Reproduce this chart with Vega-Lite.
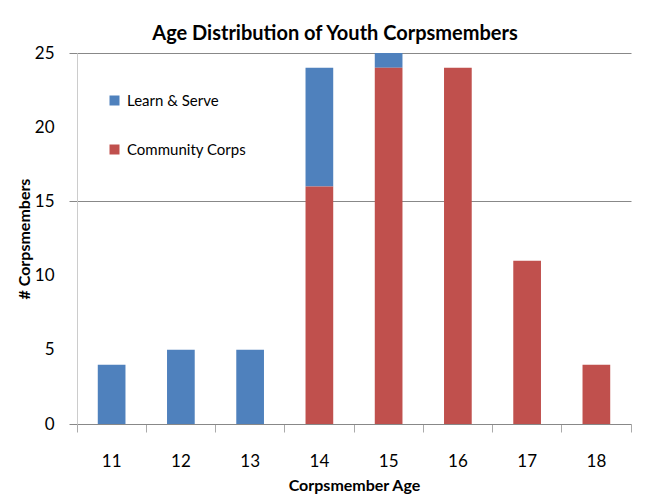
{
  "$schema": "https://vega.github.io/schema/vega-lite/v6.json",
  "autosize": "none",
  "padding": {"left": 77, "top": 53, "right": 20, "bottom": 70},
  "width": 554,
  "height": 371,
  "background": "white",
  "title": {
    "text": "Age Distribution of Youth Corpsmembers",
    "fontSize": 20,
    "font": "Lato",
    "fontWeight": "bold",
    "color": "#000000",
    "anchor": "middle",
    "dx": -19,
    "offset": 0
  },
  "data": {
    "values": [
      {"age": "11", "group": "Learn & Serve", "count": 4},
      {"age": "12", "group": "Learn & Serve", "count": 5},
      {"age": "13", "group": "Learn & Serve", "count": 5},
      {"age": "14", "group": "Learn & Serve", "count": 8},
      {"age": "14", "group": "Community Corps", "count": 16},
      {"age": "15", "group": "Learn & Serve", "count": 3},
      {"age": "15", "group": "Community Corps", "count": 24},
      {"age": "16", "group": "Community Corps", "count": 24},
      {"age": "17", "group": "Community Corps", "count": 11},
      {"age": "18", "group": "Community Corps", "count": 4}
    ]
  },
  "mark": {"type": "bar", "clip": true, "width": {"band": 0.4}},
  "encoding": {
    "x": {
      "field": "age",
      "type": "ordinal",
      "scale": {"paddingInner": 0, "paddingOuter": 0},
      "axis": {
        "title": "Corpsmember Age",
        "titleFont": "Lato",
        "titleFontSize": 16,
        "titleFontWeight": "bold",
        "titleColor": "#000000",
        "titlePadding": 8,
        "labelAngle": 0,
        "labelFont": "Lato",
        "labelFontSize": 17,
        "labelColor": "#000000",
        "labelPadding": 21,
        "bandPosition": 1,
        "tickExtra": true,
        "tickSize": 8,
        "tickColor": "#aaaaaa",
        "domainColor": "#888888",
        "grid": false
      }
    },
    "y": {
      "field": "count",
      "type": "quantitative",
      "stack": "zero",
      "scale": {"domain": [0, 25], "nice": false},
      "axis": {
        "title": "# Corpsmembers",
        "titleFont": "Lato",
        "titleFontSize": 16,
        "titleFontWeight": "bold",
        "titleColor": "#000000",
        "titlePadding": 2,
        "values": [0, 5, 10, 15, 20, 25],
        "labelFont": "Lato",
        "labelFontSize": 17,
        "labelColor": "#000000",
        "labelPadding": 15,
        "tickSize": 8,
        "tickColor": "#888888",
        "tickOpacity": {"condition": {"test": "datum.value == 0 || datum.value == 15 || datum.value == 25", "value": 1}, "value": 0},
        "domainColor": "#cccccc",
        "grid": true,
        "gridColor": "#888888",
        "gridOpacity": {"condition": {"test": "datum.value == 15 || datum.value == 25", "value": 1}, "value": 0}
      }
    },
    "color": {
      "field": "group",
      "type": "nominal",
      "scale": {"domain": ["Learn & Serve", "Community Corps"], "range": ["#4F81BD", "#C0504D"]},
      "legend": {
        "title": null,
        "orient": "none",
        "legendX": 30,
        "legendY": 40,
        "symbolType": "square",
        "symbolSize": 100,
        "symbolStrokeWidth": 0,
        "labelFont": "Lato",
        "labelFontSize": 15,
        "labelColor": "#000000",
        "rowPadding": 33,
        "labelOffset": 5
      }
    },
    "order": {"field": "group", "sort": "ascending"}
  },
  "config": {
    "view": {"stroke": null}
  }
}
